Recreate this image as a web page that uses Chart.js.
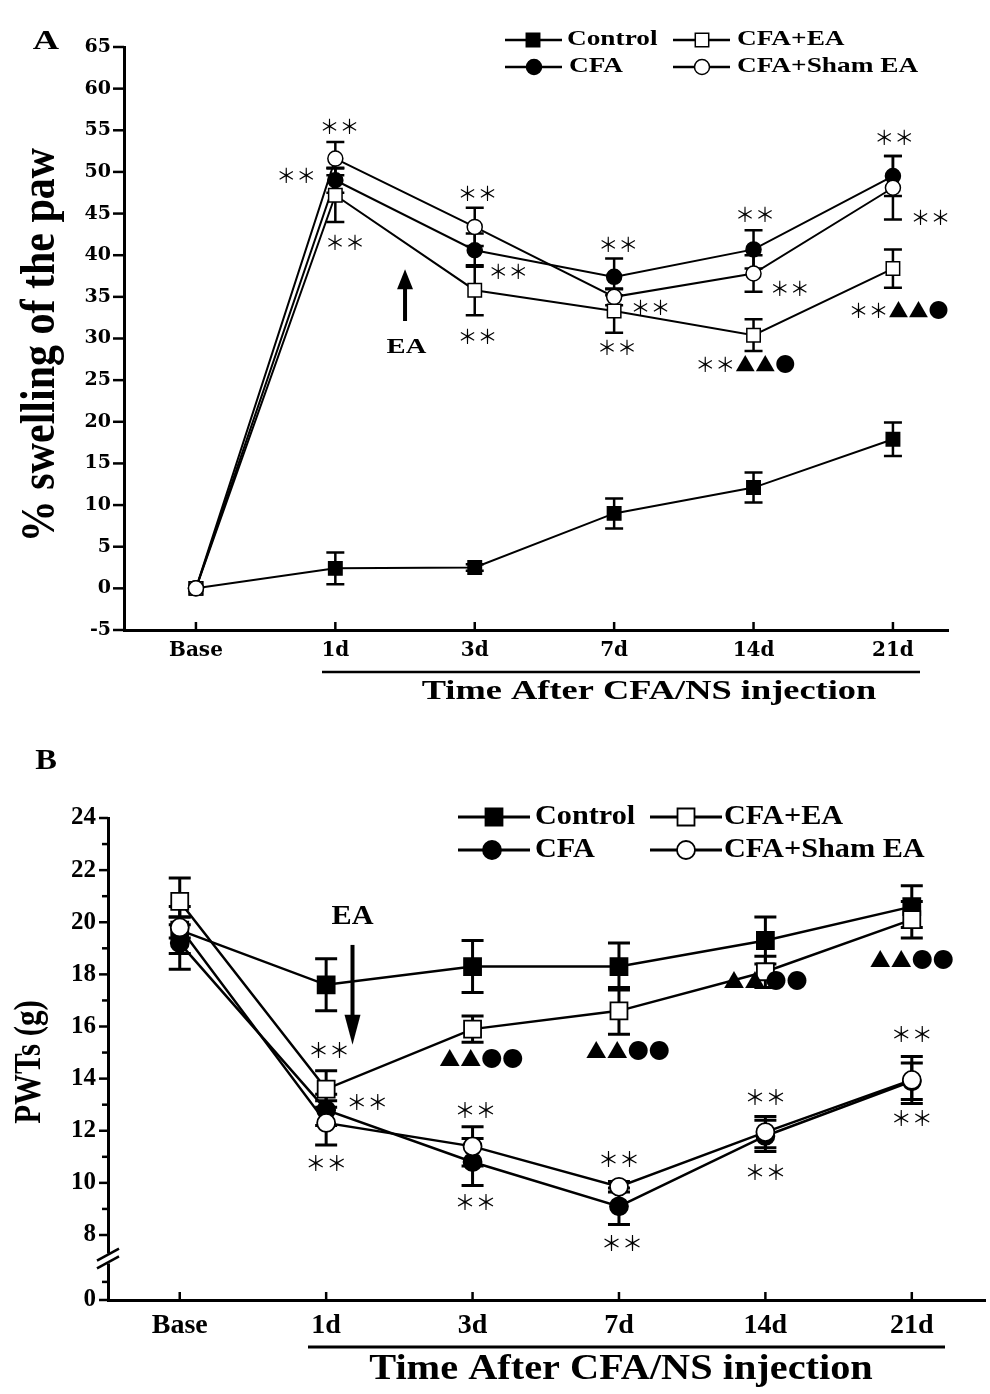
<!DOCTYPE html>
<html><head><meta charset="utf-8">
<script src="https://cdn.jsdelivr.net/npm/chart.js@4.4.1/dist/chart.umd.min.js"></script>
<style>
html,body{margin:0;padding:0;background:#fff;}
#wrapA{position:absolute;left:0;top:0;width:990px;height:720px;}
#wrapB{position:absolute;left:0;top:720px;width:990px;height:674px;}
</style></head><body>
<div id="wrapA"><canvas id="chartA"></canvas></div>
<div id="wrapB"><canvas id="chartB"></canvas></div>
<script>
// ---------------- DATA ----------------
const categories = ['Base', '1d', '3d', '7d', '14d', '21d'];
const seriesNames = ['Control', 'CFA', 'CFA+EA', 'CFA+Sham EA'];

// Panel A: % swelling of the paw (mean and SEM)
const swellControl    = [0, 2.4, 2.5, 9.0, 12.1, 17.9];
const swellControlErr = [0, 1.9, 0.4, 1.8, 1.8, 2.0];
const swellCFA        = [0, 49.0, 40.6, 37.4, 40.7, 49.5];
const swellCFAErr     = [0, 1.5, 2.0, 2.2, 2.3, 2.4];
const swellEA         = [0, 47.2, 35.8, 33.3, 30.4, 38.4];
const swellEAErr      = [0, 3.2, 3.0, 2.6, 1.9, 2.3];
const swellSham       = [0, 51.6, 43.4, 35.0, 37.8, 48.1];
const swellShamErr    = [0, 2.0, 2.3, 1.0, 2.2, 3.8];
const swellTicks      = [-5, 0, 5, 10, 15, 20, 25, 30, 35, 40, 45, 50, 55, 60, 65];

// Panel B: PWTs (g) (mean and SEM)
const pwtControl    = [19.7, 17.6, 18.3, 18.3, 19.3, 20.6];
const pwtControlErr = [0.9, 1.0, 1.0, 0.9, 0.9, 0.8];
const pwtCFA        = [19.2, 12.8, 10.8, 9.1, 11.8, 13.9];
const pwtCFAErr     = [1.0, 0.6, 0.9, 0.7, 0.6, 0.7];
const pwtEA         = [20.8, 13.6, 15.9, 16.6, 18.1, 20.1];
const pwtEAErr      = [0.9, 0.7, 0.5, 0.9, 0.6, 0.7];
const pwtSham       = [19.8, 12.3, 11.4, 9.85, 11.95, 13.95];
const pwtShamErr    = [0.4, 0.85, 0.75, 0.2, 0.6, 0.9];
const pwtTicks      = [8, 10, 12, 14, 16, 18, 20, 22, 24];
const pwtMinorTicks = [9, 11, 13, 15, 17, 19, 21, 23];

// ---------------- HELPERS ----------------
const SERIF = '"Liberation Serif", "Times New Roman", serif';
const STAR = '\uFF0A\uFF0A';
const TRI = '\u25B2', DOT = '\u25CF';

function sText(ctx, text, x, y, size, sx, align, rot) {
  ctx.save();
  ctx.font = 'bold ' + size + 'px ' + SERIF;
  ctx.fillStyle = '#000';
  ctx.textBaseline = 'middle';
  ctx.textAlign = align || 'center';
  ctx.translate(x, y);
  if (rot) { ctx.rotate(-Math.PI / 2); ctx.scale(1, sx); } else { ctx.scale(sx, 1); }
  ctx.fillText(text, 0, 0);
  ctx.restore();
}
function markText(ctx, text, x, y, size) {
  ctx.save();
  ctx.font = size + 'px "Noto Sans CJK SC", "DejaVu Sans", sans-serif';
  ctx.fillStyle = '#000';
  ctx.textAlign = 'center';
  ctx.textBaseline = 'middle';
  ctx.fillText(text, x, y);
  ctx.restore();
}
function drawMarker(ctx, style, filled, x, y, r, bw) {
  ctx.save();
  ctx.lineWidth = bw;
  ctx.strokeStyle = '#000';
  ctx.fillStyle = filled ? '#000' : '#fff';
  ctx.beginPath();
  if (style === 'rect') {
    const s = Math.SQRT1_2 * r;
    ctx.rect(x - s, y - s, 2 * s, 2 * s);
  } else {
    ctx.arc(x, y, r, 0, Math.PI * 2);
  }
  ctx.fill(); ctx.stroke();
  ctx.restore();
}

function makeDatasets(vals, errs, P) {
  const styles = [
    {ps: 'rect', filled: true, r: P.rectR, order: 3},
    {ps: 'circle', filled: true, r: P.circR, order: 2},
    {ps: 'rect', filled: false, r: P.rectR, order: 1},
    {ps: 'circle', filled: false, r: P.circR, order: 0}
  ];
  return vals.map((v, k) => ({
    label: seriesNames[k],
    data: v.map((y, i) => ({x: i, y: y})),
    errors: errs[k],
    markerStyle: styles[k].ps,
    markerFilled: styles[k].filled,
    borderColor: '#000',
    borderWidth: P.lineWidth,
    backgroundColor: styles[k].filled ? '#000' : '#fff',
    pointStyle: styles[k].ps,
    pointRadius: styles[k].r,
    pointHoverRadius: styles[k].r,
    pointBorderWidth: P.markerBorder,
    pointBackgroundColor: styles[k].filled ? '#000' : '#fff',
    pointBorderColor: '#000',
    tension: 0,
    fill: false,
    order: styles[k].order
  }));
}

const panelPlugin = {
  id: 'panelPlugin',
  beforeDatasetsDraw(chart) {
    const P = chart.options.plugins.panelPlugin.P;
    const ctx = chart.ctx, xs = chart.scales.x, ys = chart.scales.y;
    ctx.save();
    ctx.strokeStyle = '#000';
    ctx.lineWidth = P.errWidth;
    chart.data.datasets.forEach(ds => {
      ds.data.forEach((p, i) => {
        const e = ds.errors[i];
        if (!e) return;
        const px = xs.getPixelForValue(p.x);
        const t = ys.getPixelForValue(p.y + e), b = ys.getPixelForValue(p.y - e);
        ctx.beginPath();
        ctx.moveTo(px, t); ctx.lineTo(px, b);
        ctx.moveTo(px - P.capHalf, t); ctx.lineTo(px + P.capHalf, t);
        ctx.moveTo(px - P.capHalf, b); ctx.lineTo(px + P.capHalf, b);
        ctx.stroke();
      });
    });
    ctx.restore();
  },
  afterDraw(chart) {
    const P = chart.options.plugins.panelPlugin.P;
    const ctx = chart.ctx, xs = chart.scales.x, ys = chart.scales.y, ca = chart.chartArea;
    ctx.save();
    ctx.strokeStyle = '#000';
    ctx.fillStyle = '#000';
    ctx.lineWidth = P.tickWidth;
    // x ticks, inward
    categories.forEach((c, i) => {
      const px = xs.getPixelForValue(i);
      ctx.beginPath(); ctx.moveTo(px, ca.bottom); ctx.lineTo(px, ca.bottom - P.xTickLen); ctx.stroke();
    });
    // y ticks, outward
    ys.ticks.forEach(t => {
      const py = ys.getPixelForValue(t.value);
      ctx.beginPath(); ctx.moveTo(ca.left, py); ctx.lineTo(ca.left - P.yTickLen, py); ctx.stroke();
    });
    (P.minor || []).forEach(v => {
      const py = ys.getPixelForValue(v);
      ctx.beginPath(); ctx.moveTo(ca.left, py); ctx.lineTo(ca.left - P.yMinorLen, py); ctx.stroke();
    });
    // axis break
    if (P.breakAt) {
      const y1 = ys.getPixelForValue(P.breakAt[0]), y2 = ys.getPixelForValue(P.breakAt[1]);
      ctx.fillStyle = '#fff';
      ctx.fillRect(ca.left - 4, y1 - 1, 8, y2 - y1 + 2);
      ctx.lineWidth = 2.5;
      [y1, y2].forEach(yy => {
        ctx.beginPath(); ctx.moveTo(ca.left - 11, yy + 6); ctx.lineTo(ca.left + 11, yy - 6); ctx.stroke();
      });
      ctx.fillStyle = '#000';
    }
    // arrow
    const A = P.arrow;
    const ax = xs.getPixelForValue(A.x), aTail = ys.getPixelForValue(A.tail), aTip = ys.getPixelForValue(A.tip);
    const dir = aTip < aTail ? 1 : -1; // 1 = pointing up
    ctx.lineWidth = A.shaft;
    ctx.beginPath(); ctx.moveTo(ax, aTail); ctx.lineTo(ax, aTip + dir * A.headLen * 0.8); ctx.stroke();
    ctx.beginPath();
    ctx.moveTo(ax, aTip);
    ctx.lineTo(ax - A.headHalf, aTip + dir * A.headLen);
    ctx.lineTo(ax + A.headHalf, aTip + dir * A.headLen);
    ctx.closePath(); ctx.fill();
    sText(ctx, 'EA', xs.getPixelForValue(A.labelX), ys.getPixelForValue(A.labelY), A.labelSize, P.sx, 'center');
    // significance marks
    P.marks.forEach(m => markText(ctx, m.t, xs.getPixelForValue(m.x), ys.getPixelForValue(m.y), P.markSize));
    // legend
    P.legend.forEach((L, k) => {
      const ds = chart.data.datasets[k];
      ctx.lineWidth = P.legendLine;
      ctx.beginPath(); ctx.moveTo(L.x0, L.y); ctx.lineTo(L.x1, L.y); ctx.stroke();
      drawMarker(ctx, ds.markerStyle, ds.markerFilled, L.m, L.y, ds.pointRadius, P.markerBorder);
      sText(ctx, ds.label, L.tx, L.y, P.legendSize, P.sx, 'left');
    });
    // titles
    sText(ctx, P.panelLabel.t, P.panelLabel.x, P.panelLabel.y, P.panelLabel.size, P.sx, 'center');
    sText(ctx, P.yTitle.t, P.yTitle.x, P.yTitle.y, P.yTitle.size, P.yTitle.sx, 'center', true);
    ctx.lineWidth = P.under.w;
    ctx.beginPath(); ctx.moveTo(P.under.x0, P.under.y); ctx.lineTo(P.under.x1, P.under.y); ctx.stroke();
    sText(ctx, P.xTitle.t, P.xTitle.x, P.xTitle.y, P.xTitle.size, P.sx, 'center');
    ctx.restore();
  }
};

function buildChart(id, P, vals, errs) {
  return new Chart(document.getElementById(id), {
    type: 'line',
    data: {datasets: makeDatasets(vals, errs, P)},
    options: {
      responsive: true,
      maintainAspectRatio: false,
      animation: false,
      events: [],
      layout: {padding: P.padding, autoPadding: false},
      plugins: {legend: {display: false}, tooltip: {enabled: false}, panelPlugin: {P: P}},
      scales: {
        x: {
          type: 'linear', min: P.xMin, max: P.xMax,
          grid: {display: false, drawTicks: false},
          border: {display: true, color: '#000', width: P.axisWidth},
          afterBuildTicks: s => { s.ticks = categories.map((c, i) => ({value: i})); },
          afterFit: s => { s.height = P.xAxisHeight; s.paddingLeft = 0; s.paddingRight = 0; },
          ticks: {
            autoSkip: false, maxRotation: 0, padding: P.xPad, color: '#000',
            font: P.xFont,
            callback: v => categories[v]
          }
        },
        y: {
          type: 'linear', min: P.yMin, max: P.yMax,
          grid: {display: false, drawTicks: false},
          border: {display: true, color: '#000', width: P.axisWidth},
          afterBuildTicks: s => { s.ticks = P.yTicks.map(v => ({value: v})); },
          afterFit: s => { s.width = P.yAxisWidth; s.paddingTop = 0; s.paddingBottom = 0; },
          ticks: {
            autoSkip: false, padding: P.yPad, color: '#000',
            font: P.yFont,
            callback: v => P.yLabel(v)
          }
        }
      }
    },
    plugins: [panelPlugin]
  });
}

// ---------------- PANEL A ----------------
const PA = {
  xMin: -0.516, xMax: 5.395, yMin: -5, yMax: 65,
  yTicks: swellTicks, yLabel: v => String(v),
  padding: {left: 0, right: 42, top: 47, bottom: 0},
  yAxisWidth: 124, xAxisHeight: 90, xPad: 9, yPad: 13,
  xFont: {family: '"DejaVu Serif", serif', size: 20, weight: 'bold'},
  yFont: {family: '"DejaVu Serif", serif', size: 19, weight: 'bold'},
  axisWidth: 3, tickWidth: 2.5, xTickLen: 8, yTickLen: 11, yMinorLen: 6,
  lineWidth: 2, markerBorder: 1.5, rectR: 9.5, circR: 7.5,
  errWidth: 2.5, capHalf: 9,
  sx: 1.3, legendSize: 21, legendLine: 2.5, markSize: 20,
  legend: [
    {x0: 505, x1: 562, m: 533, tx: 567, y: 40},
    {x0: 505, x1: 562, m: 534, tx: 569, y: 67},
    {x0: 673, x1: 730, m: 702, tx: 737, y: 40},
    {x0: 673, x1: 730, m: 702, tx: 737, y: 67}
  ],
  panelLabel: {t: 'A', x: 46, y: 42, size: 28},
  yTitle: {t: '% swelling of the paw', x: 42, y: 345, size: 42, sx: 1.15},
  xTitle: {t: 'Time After CFA/NS injection', x: 649, y: 692, size: 28},
  under: {x0: 322, x1: 920, y: 672, w: 2.5},
  arrow: {x: 1.5, tail: 32.1, tip: 38.3, shaft: 4, headLen: 20, headHalf: 8, labelX: 1.51, labelY: 28.9, labelSize: 22},
  marks: [
    {x: 1.03, y: 55.5, t: STAR}, {x: 0.72, y: 49.6, t: STAR}, {x: 1.07, y: 41.5, t: STAR},
    {x: 2.02, y: 47.4, t: STAR}, {x: 2.24, y: 38.1, t: STAR}, {x: 2.02, y: 30.3, t: STAR},
    {x: 3.03, y: 41.3, t: STAR}, {x: 3.26, y: 33.7, t: STAR}, {x: 3.02, y: 28.9, t: STAR},
    {x: 4.01, y: 44.9, t: STAR}, {x: 4.26, y: 36.0, t: STAR}, {x: 3.94, y: 26.9, t: STAR + TRI + TRI + DOT},
    {x: 5.01, y: 54.1, t: STAR}, {x: 5.27, y: 44.5, t: STAR}, {x: 5.04, y: 33.4, t: STAR + TRI + TRI + DOT}
  ]
};

// ---------------- PANEL B ----------------
const pwtZero = 5.506; // axis position shown as "0" below the break
const PB = {
  xMin: -0.49, xMax: 5.5, yMin: pwtZero, yMax: 24,
  yTicks: [pwtZero].concat(pwtTicks), yLabel: v => (v === pwtZero ? '0' : String(v)),
  minor: pwtMinorTicks.concat([6.2]), breakAt: [7.25, 6.95],
  padding: {left: 0, right: 5, top: 98, bottom: 0},
  yAxisWidth: 108, xAxisHeight: 94, xPad: 9, yPad: 12,
  xFont: {family: SERIF, size: 28, weight: 'bold'},
  yFont: {family: SERIF, size: 25, weight: 'bold'},
  axisWidth: 3, tickWidth: 2.5, xTickLen: 8, yTickLen: 9, yMinorLen: 6,
  lineWidth: 2.5, markerBorder: 1.8, rectR: 12, circR: 9,
  errWidth: 3, capHalf: 11,
  sx: 1.12, legendSize: 27, legendLine: 3, markSize: 21,
  legend: [
    {x0: 458, x1: 530, m: 494, tx: 535, y: 97},
    {x0: 458, x1: 530, m: 492, tx: 535, y: 130},
    {x0: 650, x1: 722, m: 686, tx: 724, y: 97},
    {x0: 650, x1: 722, m: 686, tx: 724, y: 130}
  ],
  panelLabel: {t: 'B', x: 46, y: 42, size: 29},
  yTitle: {t: 'PWTs (g)', x: 30, y: 342, size: 31, sx: 1.2},
  xTitle: {t: 'Time After CFA/NS injection', x: 621, y: 650, size: 36},
  under: {x0: 308, x1: 945, y: 627, w: 3},
  arrow: {x: 1.18, tail: 19.13, tip: 15.3, shaft: 4, headLen: 30, headHalf: 8, labelX: 1.18, labelY: 20.2, labelSize: 27},
  marks: [
    {x: 1.02, y: 15.1, t: STAR}, {x: 1.28, y: 13.1, t: STAR}, {x: 1.0, y: 10.76, t: STAR},
    {x: 2.06, y: 14.8, t: TRI + TRI + DOT + DOT}, {x: 2.02, y: 12.8, t: STAR}, {x: 2.02, y: 9.27, t: STAR},
    {x: 3.06, y: 15.1, t: TRI + TRI + DOT + DOT}, {x: 3.0, y: 10.9, t: STAR}, {x: 3.02, y: 7.7, t: STAR},
    {x: 4.0, y: 17.8, t: TRI + TRI + DOT + DOT}, {x: 4.0, y: 13.3, t: STAR}, {x: 4.0, y: 10.4, t: STAR},
    {x: 5.0, y: 18.6, t: TRI + TRI + DOT + DOT}, {x: 5.0, y: 15.7, t: STAR}, {x: 5.0, y: 12.5, t: STAR}
  ]
};

buildChart('chartA', PA,
  [swellControl, swellCFA, swellEA, swellSham],
  [swellControlErr, swellCFAErr, swellEAErr, swellShamErr]);
buildChart('chartB', PB,
  [pwtControl, pwtCFA, pwtEA, pwtSham],
  [pwtControlErr, pwtCFAErr, pwtEAErr, pwtShamErr]);
</script>
</body></html>
